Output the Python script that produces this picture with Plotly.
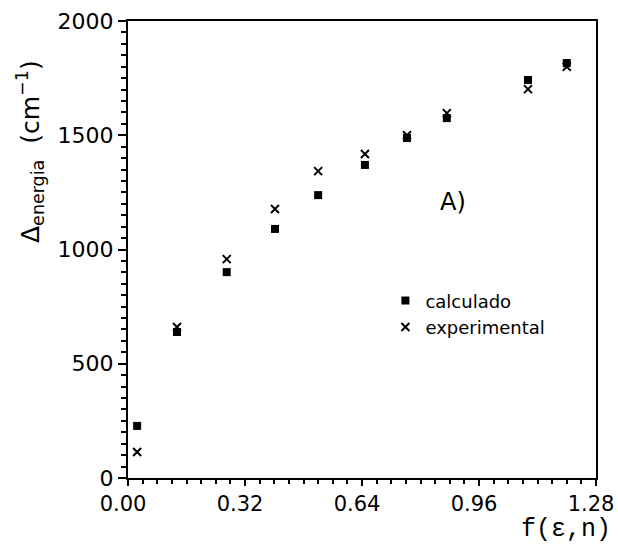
import plotly.graph_objects as go

f_vals = [0.025, 0.134, 0.270, 0.402, 0.520, 0.648, 0.763, 0.872, 1.094, 1.200]
calculado = [228, 639, 901, 1090, 1238, 1370, 1488, 1575, 1742, 1816]
experimental = [114, 661, 958, 1177, 1343, 1418, 1500, 1597, 1702, 1800]
x_ticks = [0.00, 0.32, 0.64, 0.96, 1.28]
y_ticks = [0, 500, 1000, 1500, 2000]

fig = go.Figure()
fig.add_trace(go.Scatter(x=f_vals, y=calculado, mode="markers", name="calculado",
                         marker=dict(symbol="square", size=8, color="black")))
fig.add_trace(go.Scatter(x=f_vals, y=experimental, mode="markers", name="experimental",
                         marker=dict(symbol="x-thin-open", size=8, color="black",
                                     line=dict(width=2, color="black"))))

font_sans = "DejaVu Sans"
L, R, T, B = 128, 22, 21, 67
W, H = 618, 545
pw, ph = W - L - R, H - T - B


def px_x(p):
    return (p - L) / pw


def px_y(p):
    return 1 - (p - T) / ph


fig.update_layout(
    width=W, height=H,
    margin=dict(l=L, r=R, t=T, b=B, autoexpand=False),
    paper_bgcolor="white", plot_bgcolor="white",
    font=dict(family=font_sans, color="black", size=20),
    showlegend=True,
    legend=dict(x=0.55, y=0.428, xanchor="left", yanchor="top",
                bgcolor="rgba(0,0,0,0)", font=dict(size=18, family=font_sans),
                itemwidth=30, tracegroupgap=0),
    xaxis=dict(range=[0, 1.28], tickvals=x_ticks, tickformat=".2f",
               ticklabeloverflow="allow", ticklabelshift=-5, automargin=False,
               showgrid=False, zeroline=False, showline=True, linecolor="black",
               linewidth=2, mirror=True, ticks="outside", ticklen=6, tickwidth=2,
               tickcolor="black", tickfont=dict(size=21, family=font_sans),
               minor=dict(dtick=0.04, ticks="outside", ticklen=4, tickwidth=2,
                          tickcolor="black", showgrid=False)),
    yaxis=dict(range=[0, 2000], tickvals=y_ticks, automargin=False,
               showgrid=False, zeroline=False, showline=True, linecolor="black",
               linewidth=2, mirror=True, ticks="outside", ticklen=8, tickwidth=2,
               tickcolor="black", tickfont=dict(size=22, family=font_sans),
               minor=dict(dtick=50, ticks="outside", ticklen=5, tickwidth=2,
                          tickcolor="black", showgrid=False)),
    annotations=[
        dict(x=0.889, y=1208, xref="x", yref="y", text="A)", showarrow=False,
             font=dict(size=24, family=font_sans)),
        dict(x=px_x(613), y=px_y(513), xref="paper", yref="paper", text="f(ε,n)",
             showarrow=False, xanchor="right", yanchor="top",
             font=dict(size=25, family="Liberation Mono")),
        dict(x=px_x(30), y=px_y(152), xref="paper", yref="paper",
             xanchor="center", yanchor="middle",
             text="Δ<sub>energia</sub>  (cm<sup>−1</sup>)",
             showarrow=False, textangle=-90, font=dict(size=25, family=font_sans)),
    ],
)

fig.write_html("out.html")
